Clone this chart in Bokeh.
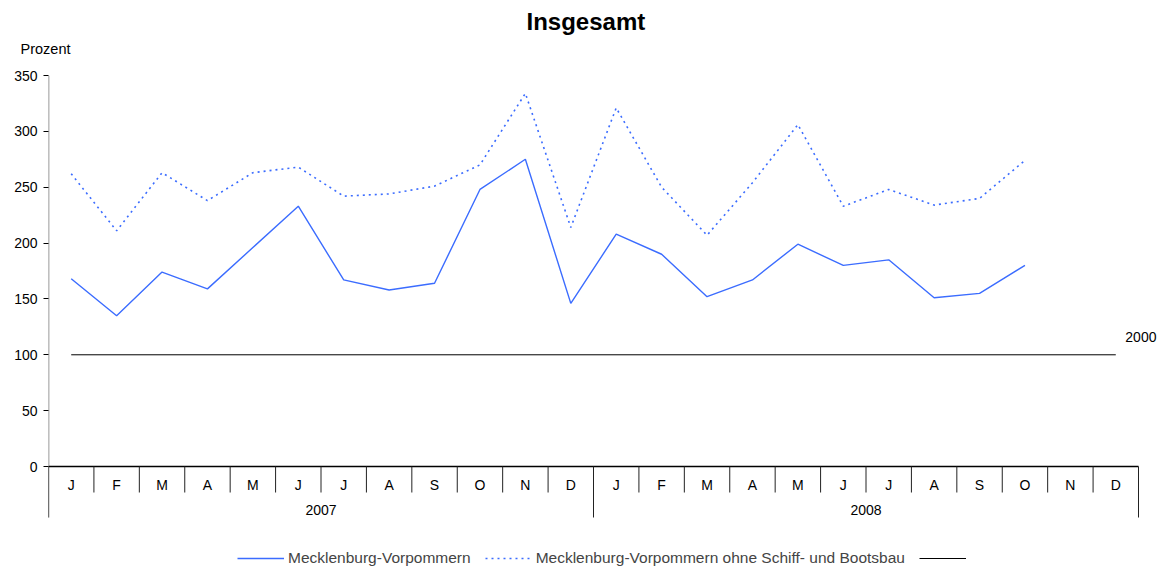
from bokeh.plotting import figure
from bokeh.models import Range1d, FixedTicker, Label, Legend, LegendItem, Title
from bokeh.embed import file_html
from bokeh.resources import INLINE
from bokeh.core.properties import value

# ---- data ----
months = ["J", "F", "M", "A", "M", "J", "J", "A", "S", "O", "N", "D"]
years = ["2007", "2008"]
mv = [168, 135, 174, 159, 196, 233, 167, 158, 164, 248, 275, 146,
      208, 190, 152, 167, 199, 180, 185, 151, 155, 180]
mv_ohne = [262, 211, 263, 238, 263, 268, 242, 244, 251, 270, 334, 214,
           321, 250, 207, 254, 306, 233, 248, 234, 240, 274]
base_value = 100
base_label = "2000"
y_ticks = [0, 50, 100, 150, 200, 250, 300, 350]
title_text = "Insgesamt"
y_unit = "Prozent"
series_names = ["Mecklenburg-Vorpommern", "Mecklenburg-Vorpommern ohne Schiff- und Bootsbau"]

FONT = "Liberation Sans"
BLUE = "#3b6cff"

W, H = 1167, 570
TOP = 75
n_cat = len(months) * len(years)
y_top_val = max(y_ticks)
k = 391.0 / y_top_val                  # pixels per percent unit
cat_depth = 26 / k                     # month band depth
year_depth = 51 / k                    # year band depth

p = figure(width=W, height=H, output_backend="svg", toolbar_location=None,
           x_range=Range1d(0, n_cat + 29 / 45.417),
           y_range=Range1d(-(104 / k), y_top_val),
           min_border_left=48, min_border_right=0, min_border_top=TOP, min_border_bottom=0)
p.xaxis.visible = False
p.grid.visible = False
p.outline_line_color = None
p.background_fill_color = "white"
p.border_fill_color = "white"

# titles (main title outermost, unit label just above the frame)
p.title.text = title_text
p.title.align = "left"
p.title.offset = 478
p.title.vertical_align = "middle"
p.title.standoff = -24
p.title.text_font = FONT
p.title.text_font_size = "24px"
p.title.text_font_style = "bold"
p.title.text_color = "black"
p.add_layout(Title(text=y_unit, align="left", offset=-28, standoff=34, vertical_align="top",
                   text_font=FONT, text_font_size="14.5px", text_font_style="normal",
                   text_color="black"), "above")

yax = p.yaxis[0]
yax.ticker = FixedTicker(ticks=y_ticks)
yax.axis_line_color = None
yax.major_tick_out = 5
yax.major_tick_in = 0
yax.minor_tick_out = 0
yax.minor_tick_in = 0
yax.major_tick_line_color = "black"
yax.major_label_standoff = 6
yax.major_label_text_font = FONT
yax.major_label_text_font_size = "14px"
yax.major_label_text_color = "black"

# vertical axis line (stops at bottom of category band)
p.segment(x0=[0], y0=[-year_depth], x1=[0], y1=[y_top_val], line_color="#808080", line_width=1.6)

# category axis
xs_center = [i + 0.5 for i in range(n_cat)]
p.segment(x0=[0], y0=[0], x1=[n_cat], y1=[0], line_color="black", line_width=1.3)
month_bounds = [i for i in range(1, n_cat) if i % len(months) != 0]
p.segment(x0=month_bounds, y0=[0] * len(month_bounds), x1=month_bounds,
          y1=[-cat_depth] * len(month_bounds), line_color="#222222", line_width=1)
year_bounds = [i * len(months) for i in range(len(years) + 1)]
p.segment(x0=year_bounds, y0=[0] * len(year_bounds), x1=year_bounds,
          y1=[-year_depth] * len(year_bounds), line_color="#222222", line_width=1)
p.text(x=xs_center, y=[-18 / k] * n_cat, text=months * len(years),
       text_align="center", text_baseline="middle", text_font=value(FONT),
       text_font_size="14px", text_color="black")
p.text(x=[(i + 0.5) * len(months) for i in range(len(years))],
       y=[-43 / k] * len(years), text=years,
       text_align="center", text_baseline="middle", text_font=value(FONT),
       text_font_size="14px", text_color="black")

# series
n_data = len(mv)
r1 = p.line(xs_center[:n_data], mv, line_color=BLUE, line_width=1.4)
r2 = p.line(xs_center[:n_data], mv_ohne, line_color=BLUE, line_width=1.6, line_dash="2 4")
r3 = p.line([xs_center[0], xs_center[-1]], [base_value, base_value], line_color="black", line_width=1)

p.add_layout(Label(x=n_cat - 0.29, y=base_value, y_offset=18, text=base_label,
                   text_font=FONT, text_font_size="14px", text_baseline="middle",
                   text_align="left", text_color="black"))

legend = Legend(items=[LegendItem(label=series_names[0], renderers=[r1]),
                       LegendItem(label=series_names[1], renderers=[r2]),
                       LegendItem(label=" ", renderers=[r3])],
                orientation="horizontal", location=(189, 3),
                glyph_width=47, glyph_height=16, label_height=16, label_standoff=4,
                spacing=14, padding=0, margin=0,
                label_text_font=FONT, label_text_font_size="15.5px",
                border_line_color=None, background_fill_alpha=0)
p.add_layout(legend)

open("out.html", "w").write(file_html(p, INLINE))
